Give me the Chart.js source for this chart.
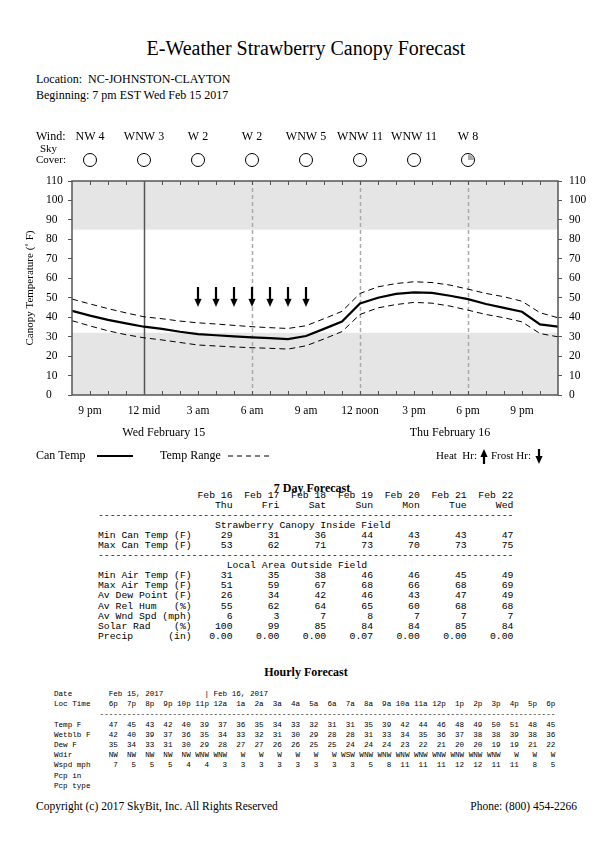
<!DOCTYPE html>
<html>
<head>
<meta charset="utf-8">
<script src="https://cdn.jsdelivr.net/npm/chart.js@4.4.0/dist/chart.umd.min.js"></script>
<style>
  body { margin: 0; background: #fff; }
  #page { position: relative; width: 612px; height: 864px; font-family: "Liberation Serif", serif; color: #000; }
  .t { position: absolute; white-space: pre; }
  pre { margin: 0; position: absolute; font-family: "Liberation Mono", monospace; color: #000; }
</style>
</head>
<body>
<div id="page">
  <div class="t" style="left:0;width:612px;text-align:center;top:37px;font-size:20px;line-height:22px;">E-Weather Strawberry Canopy Forecast</div>
  <div class="t" style="left:36px;top:72px;font-size:12px;line-height:14px;">Location:  NC-JOHNSTON-CLAYTON</div>
  <div class="t" style="left:36px;top:88px;font-size:12px;line-height:14px;">Beginning: 7 pm EST Wed Feb 15 2017</div>

  <canvas id="chart" width="612" height="370" style="position:absolute;left:0;top:110px;"></canvas>

  <pre id="daily" style="left:98px;top:491px;font-size:9.75px;line-height:10.05px;"></pre>
  <div class="t" style="left:0;width:624px;text-align:center;top:481px;font-size:12px;font-weight:bold;line-height:14px;">7 Day Forecast</div>

  <div class="t" style="left:0;width:612px;text-align:center;top:665px;font-size:12px;font-weight:bold;line-height:14px;">Hourly Forecast</div>
  <pre id="hourly" style="left:54px;top:689px;font-size:7.6px;line-height:10.2px;"></pre>

  <div class="t" style="left:36px;top:799px;font-size:11.5px;line-height:14px;">Copyright (c) 2017 SkyBit, Inc. All Rights Reserved</div>
  <div class="t" style="right:35px;top:799px;font-size:11.5px;line-height:14px;">Phone: (800) 454-2266</div>
</div>

<script>
// ---- canopy chart data (hours counted from midnight Feb 15, 20 = 8 pm) ----
const hours = [20, 21, 22, 23, 24, 25, 26, 27, 28, 29, 30, 31, 32, 33,
               34, 35, 36, 37, 38, 39, 40, 41, 42, 43, 44, 45, 46, 47];
const canTemp = [43.3, 40.8, 38.6, 36.8, 35.1, 34.0, 32.5, 31.3, 30.7, 30.1, 29.6, 29.2, 28.7, 30.3,
                 34.0, 37.8, 47.0, 50.0, 52.0, 52.8, 52.5, 51.0, 49.3, 46.8, 44.8, 42.8, 36.3, 35.1];
const rangeHigh = [49.3, 46.8, 44.4, 42.2, 40.2, 39.2, 38.0, 37.1, 36.5, 35.8, 35.1, 34.6, 34.2, 35.6,
                   39.2, 43.0, 52.2, 55.6, 57.3, 58.2, 57.8, 56.5, 54.4, 52.2, 50.5, 48.2, 42.3, 39.7];
const rangeLow = [38.2, 35.5, 33.0, 31.0, 29.4, 28.3, 27.0, 25.7, 25.2, 24.7, 24.3, 24.0, 23.6, 25.3,
                  28.8, 32.6, 41.4, 44.8, 46.5, 47.6, 47.2, 45.7, 43.6, 41.4, 39.7, 37.6, 31.6, 29.9];
const frostHours = [27, 28, 29, 30, 31, 32, 33];
const heatHours = [];

const tickText = { 21: "9 pm", 24: "12 mid", 27: "3 am", 30: "6 am", 33: "9 am",
                   36: "12 noon", 39: "3 pm", 42: "6 pm", 45: "9 pm" };
const dayLabels = ["Wed February 15", "Thu February 16"];
const dayLabelHours = [25.1, 41];

const windHours = [21, 24, 27, 30, 33, 36, 39, 42];
const windLabels = ["NW 4", "WNW 3", "W 2", "W 2", "WNW 5", "WNW 11", "WNW 11", "W 8"];
const skyCover = [0, 0, 0, 0, 0, 0, 0, 0.25];

const coldLimit = 32;
const hotLimit = 85;
const ARROW_Y = 50.5;

// ---- 7 day table ----
const days = ["Feb 16", "Feb 17", "Feb 18", "Feb 19", "Feb 20", "Feb 21", "Feb 22"];
const weekdays = ["Thu", "Fri", "Sat", "Sun", "Mon", "Tue", "Wed"];
const minCan = [29, 31, 36, 44, 43, 43, 47];
const maxCan = [53, 62, 71, 73, 70, 73, 75];
const minAir = [31, 35, 38, 46, 46, 45, 49];
const maxAir = [51, 59, 67, 68, 66, 68, 69];
const dewPoint = [26, 34, 42, 46, 43, 47, 49];
const relHum = [55, 62, 64, 65, 60, 68, 68];
const windSpd = [6, 3, 7, 8, 7, 7, 7];
const solarRad = [100, 99, 85, 84, 84, 85, 84];
const precip = [0, 0, 0, 0.07, 0, 0, 0];

// ---- hourly table ----
const hourLabels = ["6p", "7p", "8p", "9p", "10p", "11p", "12a", "1a", "2a", "3a", "4a", "5a", "6a",
                    "7a", "8a", "9a", "10a", "11a", "12p", "1p", "2p", "3p", "4p", "5p", "6p"];
const hrTemp = [47, 45, 43, 42, 40, 39, 37, 36, 35, 34, 33, 32, 31, 31, 35, 39, 42, 44, 46, 48, 49, 50, 51, 48, 45];
const hrWetblb = [42, 40, 39, 37, 36, 35, 34, 33, 32, 31, 30, 29, 28, 28, 31, 33, 34, 35, 36, 37, 38, 38, 39, 38, 36];
const hrDew = [35, 34, 33, 31, 30, 29, 28, 27, 27, 26, 26, 25, 25, 24, 24, 24, 23, 22, 21, 20, 20, 19, 19, 21, 22];
const hrWdir = ["NW", "NW", "NW", "NW", "NW", "WNW", "WNW", "W", "W", "W", "W", "W", "W",
                "WSW", "WNW", "WNW", "WNW", "WNW", "WNW", "WNW", "WNW", "WNW", "W", "W", "W"];
const hrWspd = [7, 5, 5, 5, 4, 4, 3, 3, 3, 3, 3, 3, 3, 3, 5, 8, 11, 11, 11, 12, 12, 11, 11, 8, 5];

function dailyRow(label, vals) {
  return label.padEnd(16) + vals.map((v, i) => String(v).padStart(i === 0 ? 7 : 8)).join("");
}

function buildDaily() {
  const dash = "-".repeat(71);
  const lines = [
    dailyRow("", days),
    dailyRow("", weekdays),
    dash,
    " ".repeat(20) + "Strawberry Canopy Inside Field",
    dailyRow("Min Can Temp (F)", minCan),
    dailyRow("Max Can Temp (F)", maxCan),
    dash,
    " ".repeat(22) + "Local Area Outside Field",
    dailyRow("Min Air Temp (F)", minAir),
    dailyRow("Max Air Temp (F)", maxAir),
    dailyRow("Av Dew Point (F)", dewPoint),
    dailyRow("Av Rel Hum   (%)", relHum),
    dailyRow("Av Wnd Spd (mph)", windSpd),
    dailyRow("Solar Rad    (%)", solarRad),
    dailyRow("Precip      (in)", precip.map((p) => p.toFixed(2))),
  ];
  document.getElementById("daily").textContent = lines.join("\n");
}

function hourlyRow(label, vals) {
  return label.padEnd(10) + vals.map((v) => String(v).padStart(4)).join("");
}

function buildHourly() {
  const lines = [
    "Date".padEnd(12) + "Feb 15, 2017".padEnd(21) + "| Feb 16, 2017",
    hourlyRow("Loc Time", hourLabels),
    " ".repeat(10) + "-".repeat(100),
    hourlyRow("Temp F", hrTemp),
    hourlyRow("Wetblb F", hrWetblb),
    hourlyRow("Dew F", hrDew),
    hourlyRow("Wdir", hrWdir),
    hourlyRow("Wspd mph", hrWspd),
    "Pcp in",
    "Pcp type",
  ];
  document.getElementById("hourly").textContent = lines.join("\n");
}

function drawArrow(g, x, yTop, yBottom, up) {
  const headH = 8, headW = 3.6;
  g.fillStyle = "#000";
  g.beginPath();
  if (up) {
    g.moveTo(x, yTop);
    g.lineTo(x + headW, yTop + headH);
    g.lineTo(x - headW, yTop + headH);
    g.closePath();
    g.fill();
    g.fillRect(x - 1.1, yTop + headH - 1, 2.2, yBottom - yTop - headH + 1);
  } else {
    g.moveTo(x, yBottom);
    g.lineTo(x + headW, yBottom - headH);
    g.lineTo(x - headW, yBottom - headH);
    g.closePath();
    g.fill();
    g.fillRect(x - 1.1, yTop, 2.2, yBottom - yTop - headH + 1);
  }
}

function arrowImage(up) {
  const c = document.createElement("canvas");
  c.width = 10;
  c.height = 20;
  drawArrow(c.getContext("2d"), 5, 0, 20, up);
  return c;
}

const decor = {
  id: "decor",
  beforeDatasetsDraw(chart) {
    const { ctx, chartArea: a, scales: { x, y } } = chart;
    ctx.save();
    ctx.fillStyle = "#e5e5e5";
    [[0, coldLimit], [hotLimit, 110]].forEach(([lo, hi]) => {
      const top = y.getPixelForValue(hi), bot = y.getPixelForValue(lo);
      ctx.fillRect(a.left, top, a.right - a.left, bot - top);
    });
    // day change line and 6 hour lines
    [24, 30, 36, 42].forEach((h) => {
      const px = Math.round(x.getPixelForValue(h)) + 0.5;
      ctx.beginPath();
      if (h === 24) {
        ctx.strokeStyle = "#555";
        ctx.setLineDash([]);
      } else {
        ctx.strokeStyle = "#aaa";
        ctx.setLineDash([4, 3]);
      }
      ctx.lineWidth = 1.5;
      ctx.moveTo(px, a.top);
      ctx.lineTo(px, a.bottom);
      ctx.stroke();
    });
    ctx.restore();
  },
  afterDraw(chart) {
    const { ctx, chartArea: a, scales: { x } } = chart;
    ctx.save();
    // frame + inward hour ticks
    ctx.strokeStyle = "#555";
    ctx.lineWidth = 1.5;
    ctx.strokeRect(a.left, a.top, a.right - a.left, a.bottom - a.top);
    ctx.lineWidth = 1;
    ctx.beginPath();
    hours.slice(1, -1).forEach((h) => {
      const px = Math.round(x.getPixelForValue(h)) + 0.5;
      ctx.moveTo(px, a.top);
      ctx.lineTo(px, a.top + 4);
      ctx.moveTo(px, a.bottom);
      ctx.lineTo(px, a.bottom - 4);
    });
    ctx.stroke();

    ctx.fillStyle = "#000";
    ctx.font = "12px 'Liberation Serif', serif";
    ctx.textBaseline = "middle";
    // wind row
    ctx.textAlign = "left";
    ctx.fillText("Wind:", 36, 27);
    ctx.font = "11px 'Liberation Serif', serif";
    ctx.fillText("Sky", 40, 39);
    ctx.fillText("Cover:", 36, 50);
    ctx.font = "12px 'Liberation Serif', serif";
    ctx.textAlign = "center";
    windHours.forEach((h, i) => {
      const px = x.getPixelForValue(h);
      ctx.fillText(windLabels[i], px, 27);
      ctx.beginPath();
      ctx.arc(px, 50, 6.5, 0, Math.PI * 2);
      ctx.fillStyle = "#fff";
      ctx.fill();
      if (skyCover[i] > 0) {
        ctx.beginPath();
        ctx.moveTo(px, 50);
        ctx.arc(px, 50, 5.5, -Math.PI / 2, -Math.PI / 2 + skyCover[i] * Math.PI * 2);
        ctx.closePath();
        ctx.fillStyle = "#a8a8a8";
        ctx.fill();
      }
      ctx.beginPath();
      ctx.arc(px, 50, 6.5, 0, Math.PI * 2);
      ctx.strokeStyle = "#000";
      ctx.lineWidth = 1;
      ctx.stroke();
      ctx.fillStyle = "#000";
    });

    // y title
    ctx.save();
    ctx.translate(30, (a.top + a.bottom) / 2);
    ctx.rotate(-Math.PI / 2);
    ctx.font = "11px 'Liberation Serif', serif";
    ctx.fillText("Canopy Temperature (\u02da F)", 0, 0);
    ctx.restore();

    // day labels
    ctx.font = "12px 'Liberation Serif', serif";
    dayLabels.forEach((d, i) => ctx.fillText(d, x.getPixelForValue(dayLabelHours[i]), 323));

    // legend
    const ly = 346;
    ctx.textAlign = "left";
    ctx.fillText("Can Temp", 36, ly);
    ctx.fillText("Temp Range", 160, ly);
    ctx.font = "11px 'Liberation Serif', serif";
    ctx.textAlign = "right";
    ctx.fillText("Heat  Hr:", 477, ly);
    ctx.textAlign = "left";
    ctx.fillText("Frost Hr:", 491, ly);
    ctx.strokeStyle = "#000";
    ctx.lineWidth = 2.2;
    ctx.beginPath();
    ctx.moveTo(97, ly);
    ctx.lineTo(133, ly);
    ctx.stroke();
    ctx.lineWidth = 1;
    ctx.setLineDash([5, 4]);
    ctx.beginPath();
    ctx.moveTo(228, ly);
    ctx.lineTo(272, ly);
    ctx.stroke();
    ctx.setLineDash([]);
    drawArrow(ctx, 484, ly - 7, ly + 8, true);
    drawArrow(ctx, 539, ly - 7, ly + 8, false);
    ctx.restore();
  },
};

const pts = (arr) => hours.map((h, i) => ({ x: h, y: arr[i] }));

Chart.defaults.font.family = "'Liberation Serif', serif";
Chart.defaults.font.size = 11.5;
Chart.defaults.color = "#000";

new Chart(document.getElementById("chart"), {
  type: "line",
  data: {
    datasets: [
      { label: "Can Temp", data: pts(canTemp), borderColor: "#000", borderWidth: 2.2, pointRadius: 0, tension: 0 },
      { label: "Temp Range", data: pts(rangeHigh), borderColor: "#000", borderWidth: 1, borderDash: [6, 4], pointRadius: 0 },
      { label: "Temp Range", data: pts(rangeLow), borderColor: "#000", borderWidth: 1, borderDash: [6, 4], pointRadius: 0 },
      { label: "Frost Hr", data: frostHours.map((h) => ({ x: h, y: ARROW_Y })), showLine: false,
        pointStyle: arrowImage(false), pointRadius: 10 },
      { label: "Heat Hr", data: heatHours.map((h) => ({ x: h, y: ARROW_Y })), showLine: false,
        pointStyle: arrowImage(true), pointRadius: 10 },
    ],
  },
  options: {
    responsive: false,
    animation: false,
    events: [],
    layout: { padding: { top: 71, left: 46, right: 0, bottom: 0 } },
    plugins: { legend: { display: false }, tooltip: { enabled: false } },
    scales: {
      x: {
        type: "linear", min: 20, max: 47,
        grid: { display: false, drawTicks: false },
        border: { display: false },
        ticks: { stepSize: 1, autoSkip: false, maxRotation: 0, padding: 9, callback: (v) => tickText[v] || "" },
        afterFit: (s) => { s.height = 85; },
      },
      y: {
        position: "left", min: 0, max: 110,
        ticks: { stepSize: 10, crossAlign: "far", padding: 2 },
        grid: { drawOnChartArea: false, tickLength: 4, color: "#555" },
        border: { display: false },
        afterFit: (s) => { s.width = 26; },
      },
      y2: {
        position: "right", min: 0, max: 110,
        ticks: { stepSize: 10, padding: 7 },
        grid: { drawOnChartArea: false, tickLength: 4, color: "#555" },
        border: { display: false },
        afterFit: (s) => { s.width = 54; },
      },
    },
  },
  plugins: [decor],
});

buildDaily();
buildHourly();
</script>
</body>
</html>
